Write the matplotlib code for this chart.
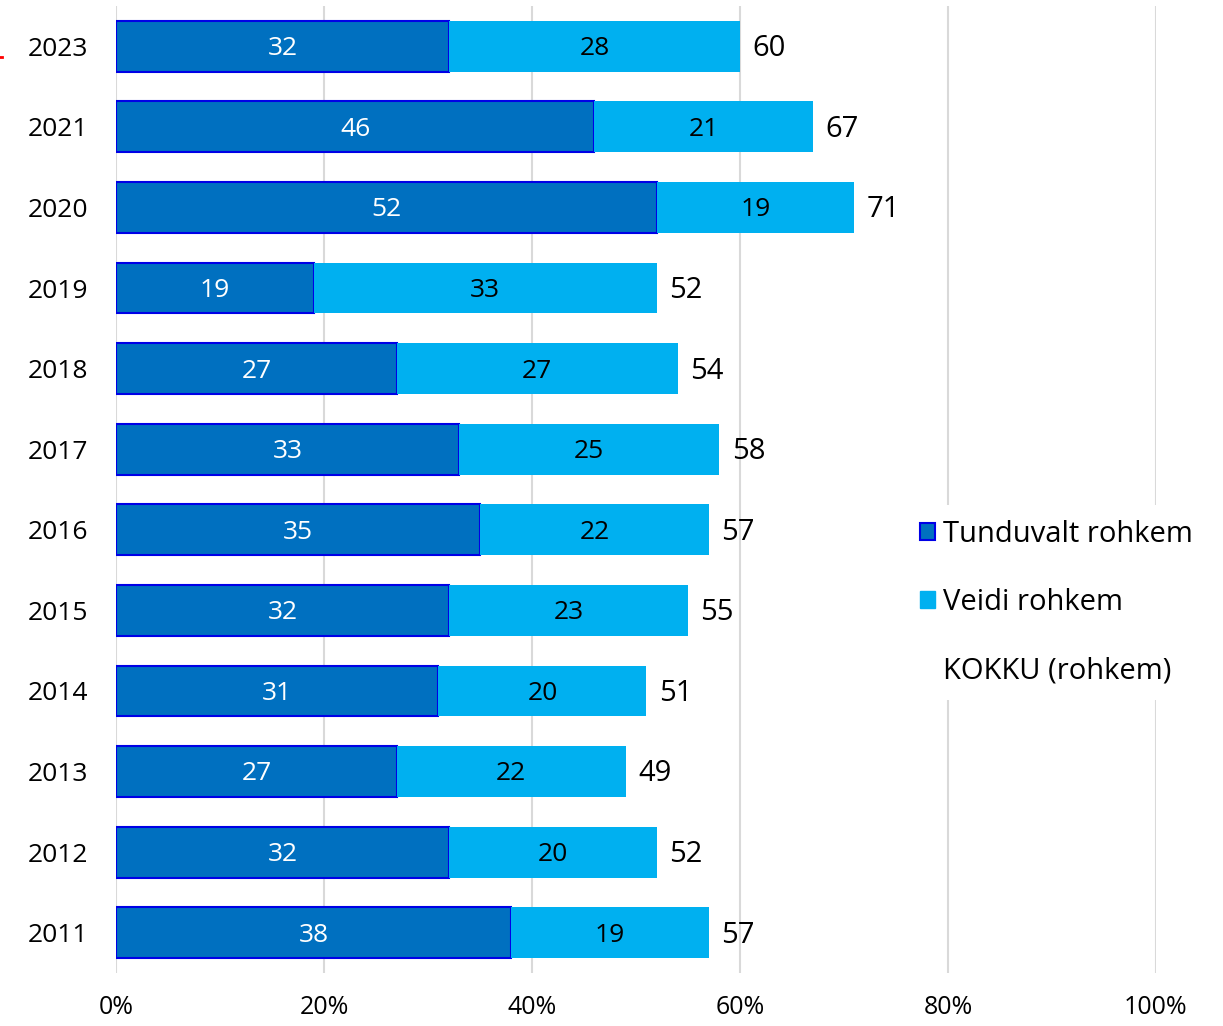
import matplotlib.pyplot as plt
from matplotlib.lines import Line2D
from matplotlib.patches import Patch

plt.rcParams['font.family'] = ['Open Sans', 'DejaVu Sans']

# Data (top to bottom)
years = ['2023', '2021', '2020', '2019', '2018', '2017', '2016', '2015', '2014', '2013', '2012', '2011']
much_more = [32, 46, 52, 19, 27, 33, 35, 32, 31, 27, 32, 38]
slightly_more = [28, 21, 19, 33, 27, 25, 22, 23, 20, 22, 20, 19]
totals = [60, 67, 71, 52, 54, 58, 57, 55, 51, 49, 52, 57]

dark = '#0070C0'
light = '#00B0F0'
edge = '#0000E6'

fig = plt.figure(figsize=(12.23, 10.26), dpi=100)
ax = fig.add_axes([116 / 1223, 1 - 973 / 1026, 1040 / 1223, 967 / 1026])

pos = list(range(len(years)))
ax.barh(pos, much_more, height=0.63, color=dark, edgecolor=edge, linewidth=1.5, zorder=3)
ax.barh(pos, slightly_more, left=much_more, height=0.63, color=light, zorder=3)

for i in pos:
    ax.text(much_more[i] / 2, i + 0.03, str(much_more[i]), color='white', fontsize=19,
            ha='center', va='center', zorder=4)
    ax.text(much_more[i] + slightly_more[i] / 2, i + 0.03, str(slightly_more[i]), color='black',
            fontsize=19, ha='center', va='center', zorder=4)
    ax.text(totals[i] + 1.2, i + 0.03, str(totals[i]), color='black', fontsize=21,
            ha='left', va='center', zorder=4)

ax.set_ylim(len(years) - 0.5, -0.5)
ax.set_yticks(pos)
ax.set_yticklabels(years, fontsize=19)
ax.set_xlim(0, 100)
ax.set_xticks([0, 20, 40, 60, 80, 100])
ax.set_xticklabels(['0%', '20%', '40%', '60%', '80%', '100%'], fontsize=18)
ax.tick_params(length=0)
ax.tick_params(axis='x', pad=16)
ax.tick_params(axis='y', pad=20)
ax.xaxis.grid(True, color='#D9D9D9', linewidth=1.5, zorder=0)
for s in ax.spines.values():
    s.set_visible(False)

handles = [
    Patch(facecolor=dark, edgecolor=edge, linewidth=1.5),
    Patch(facecolor=light, edgecolor=light),
    Line2D([], [], linestyle='none'),
]
leg = ax.legend(handles, ['Tunduvalt rohkem', 'Veidi rohkem', 'KOKKU (rohkem)'],
                loc='center left', bbox_to_anchor=(0.745, 0.383), frameon=True,
                fontsize=21, handlelength=0.52, handleheight=0.52, handletextpad=0.28,
                labelspacing=1.35, borderpad=0.5, framealpha=1)
leg.get_frame().set_edgecolor('white')
leg.get_frame().set_linewidth(0)
leg.set_zorder(5)

# small red mark at the left edge
fig.add_artist(Line2D([0, 2 / 1223], [1 - 57 / 1026, 1 - 57 / 1026], color='red', linewidth=2))

fig.savefig('out.png', dpi=100)
